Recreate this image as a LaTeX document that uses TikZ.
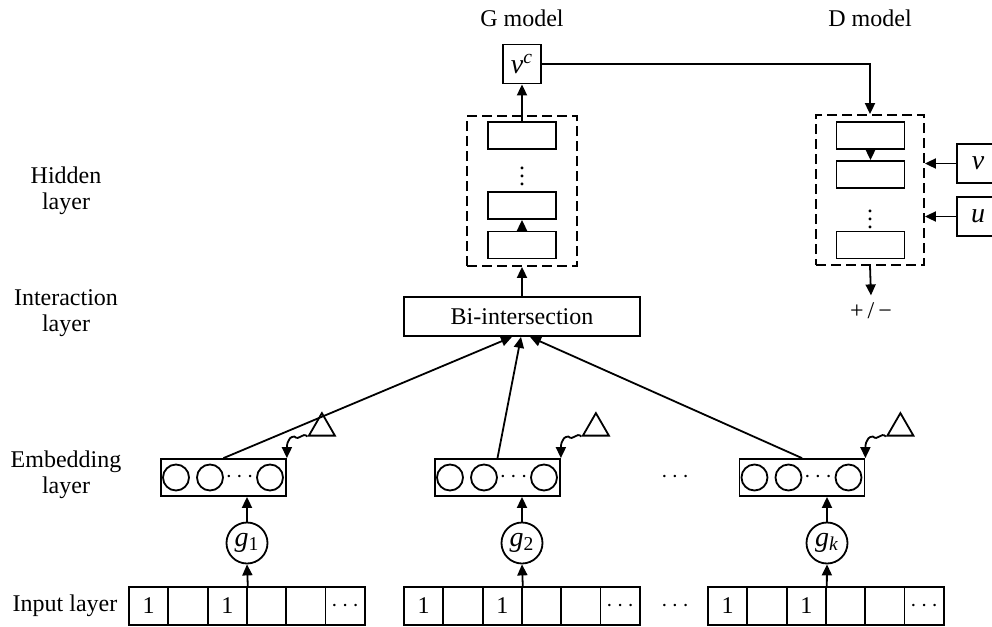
\documentclass[tikz,border=0pt]{standalone}
\usepackage{fontspec}
\setmainfont{Liberation Serif}
\usepackage{tikz}
\usetikzlibrary{positioning,calc,shapes.geometric,arrows.meta}

\begin{document}
\begin{tikzpicture}[x=0.5pt, y=-0.5pt, >={Triangle[length=5.5pt,width=5pt]}, line width=0.9pt, font=\fontsize{12}{13}\selectfont]
	\tikzstyle{cell}=[draw, minimum width=19.65pt, minimum height=19pt, inner sep=0pt]
	\tikzstyle{emb}=[draw, minimum width=62.5pt, minimum height=18.5pt, inner sep=0pt]
	\tikzstyle{hid}=[draw, minimum width=34pt, minimum height=13.5pt, inner sep=0pt]
	\tikzstyle{sq}=[draw, minimum width=19pt, minimum height=19.5pt, inner sep=0pt]
	\tikzstyle{dbox}=[draw, dash pattern=on 5pt off 2.5pt, inner sep=0pt]
	\tikzstyle{gcirc}=[draw, circle, minimum size=20.5pt, inner sep=0pt, font=\fontsize{14}{14}\selectfont]
	\tikzstyle{unit}=[draw, circle, minimum size=13pt, inner sep=0pt]
	\tikzstyle{tri}=[draw, regular polygon, regular polygon sides=3, minimum size=15pt, inner sep=0pt]
	\tikzstyle{dots}=[inner sep=0pt]
	\tikzstyle{lab}=[align=center]
	\useasboundingbox (0,0) rectangle (992,627);

	% titles and layer names
	\node (gtitle) at (522,18) {G model};
	\node (dtitle) at (870,18) {D model};
	\node[lab] (lhid) at (66,191) {Hidden\\layer};
	\node[lab] (lint) at (66,313) {Interaction\\layer};
	\node[lab] (lemb) at (66,475) {Embedding\\layer};
	\node (linp) at (65,606) {Input layer};

	% G model
	\node[sq, font=\fontsize{14}{14}\selectfont] (vc) at (522,64) {\textit{v}\textsuperscript{\textit{c}}};
	\node[dbox, minimum width=55pt, minimum height=75pt] (dG) at (522,191) {};
	\node[hid] (hG1) at (522,135.5) {};
	\node[dots] (gdots) at (522,170) {$\vdots$};
	\node[hid] (hG2) at (522,205.5) {};
	\node[hid] (hG3) at (522,245) {};
	\node[draw, minimum width=118pt, minimum height=19.5pt, inner sep=0pt] (bi) at (522,316.5) {Bi-intersection};

	\draw[->] (bi.north) -- (dG.south);
	\draw[->] (hG3.north) -- (hG2.south);
	\draw[->] (hG1.north) -- (vc.south);

	% D model
	\node[dbox, minimum width=54pt, minimum height=75pt] (dD) at (870,190) {};
	\node[hid] (hD1) at (870.5,135.5) {};
	\node[hid] (hD2) at (870.5,174.5) {};
	\node[dots] (ddots) at (870,213) {$\vdots$};
	\node[hid] (hD3) at (870.5,245) {};
	\node[sq, minimum width=21pt, font=\fontsize{14}{14}\selectfont] (v) at (978,163.5) {\textit{v}\hspace{4pt}};
	\node[sq, minimum width=21pt, font=\fontsize{14}{14}\selectfont] (u) at (978,216.5) {\textit{u}\hspace{4pt}};
	\node (pm) at (871,311) {+\,/\,−};

	\draw[->] (vc.east) -| (dD.north);
	\draw[->] (hD1.south) -- (hD2.north);
	\draw[->] (v.west) -- (v.west -| dD.east);
	\draw[->] (u.west) -- (u.west -| dD.east);
	\draw[->] (dD.south) -- (pm.north);

	% embedding, g nodes and input rows
	\foreach \n/\ex/\gx/\rx/\gl in {1/223.5/247/129/1, 2/497.5/522/404/2, 3/802/827/708/\textit{k}}{
		\node[emb] (e\n) at (\ex,477.5) {};
		\node[unit] (e\n a) at ($(e\n)+(-47.5,0)$) {};
		\node[unit] (e\n b) at ($(e\n)+(-13.5,0)$) {};
		\node (e\n c) at ($(e\n)+(16,0)$) {$\cdots$};
		\node[unit] (e\n d) at ($(e\n)+(46.5,0)$) {};
		\node[gcirc] (g\n) at (\gx,543) {\textit{g}\textsubscript{\gl}};
		\foreach \t [count=\i] in {1,,1,,,$\cdots$}
			\node[cell] (r\n-\i) at ({\rx+(\i-0.5)*39.3},606) {\t};
		\node[tri] (t\n) at ($(e\n.north east)+(35,-30)$) {};

		\draw[->] (r\n-3.north east) -- (g\n.south);
		\draw[->] (g\n.north) -- (g\n.north |- e\n.south);
		\draw[->] (t\n.corner 2) .. controls +(-5,-5) and +(5,5) .. ++(-13,0)
			.. controls +(-8,0) and +(0,-9) .. (e\n.north east);
	}
	\node (edots) at (675,477) {$\cdots$};
	\node (idots) at (675,606) {$\cdots$};

	\draw[->] (e1.north) -- ($(bi.south)+(-10,0)$);
	\draw[->] (e2.north) -- ($(bi.south)+(-1,0)$);
	\draw[->] (e3.north) -- ($(bi.south)+(8,0)$);
\end{tikzpicture}
\end{document}
